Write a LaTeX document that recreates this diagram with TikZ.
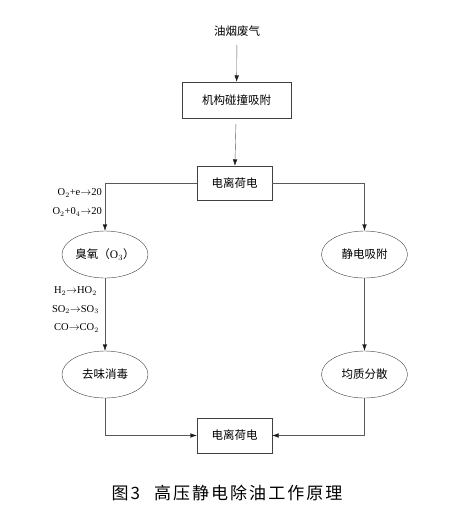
\documentclass[tikz,border=0pt]{standalone}
\usepackage{amsmath}
\usepackage{fontspec}
\setmainfont{Liberation Serif}
\newfontfamily\cjk{Noto Sans CJK SC}
\newfontfamily\cjkcap[LetterSpace=12]{Noto Sans CJK SC}
\usepackage{tikz}
\usetikzlibrary{arrows.meta,shapes.geometric}

\begin{document}
\begin{tikzpicture}[>={Latex[length=6.5pt,width=4.5pt,color=black!90]},x=1pt,y=-1pt,
    box/.style={draw=black!75,thin,minimum height=34pt,font=\fontsize{11.5}{12}\cjk},
    oval/.style={ellipse,draw=black!75,thin,minimum width=86pt,minimum height=47pt,
      inner sep=0pt,font=\fontsize{11.5}{12}\cjk},
    link/.style={draw=black!65,thin},
    chem/.style={anchor=east,inner sep=0pt,font=\fontsize{10.5}{11}\selectfont}]
  \useasboundingbox (0,0) rectangle (471,507);
  %
  % Boxes
  \node[font=\fontsize{11.5}{12}\cjk] (smoke) at (237,31) {油烟废气};
  \node[box,minimum width=109pt,minimum height=36pt] (collide) at (236.5,100) {机构碰撞吸附};
  \node[box,minimum width=75pt] (ionize) at (234.5,183) {电离荷电};
  \node[box,minimum width=75pt,minimum height=35pt] (charge) at (234.5,435.5) {电离荷电};
  %
  % Ellipses
  \node[oval] (ozone) at (105,254.5) {臭氧（{\normalfont O$_3$}）};
  \node[oval] (adsorb) at (364.5,254.5) {静电吸附};
  \node[oval] (deodor) at (105,374.5) {去味消毒};
  \node[oval] (disperse) at (364.5,374.5) {均质分散};
  %
  % Connectors
  \draw[link,->,shorten <=5pt] (smoke) -- (collide);
  \draw[link,->,shorten <=6pt] (collide) -- (ionize);
  \draw[link,->] (ionize) -| (ozone);
  \draw[link,->] (ionize) -| (adsorb);
  \draw[link,->] (ozone) -- (deodor);
  \draw[link,->] (adsorb) -- (disperse);
  \draw[link,->] (deodor) |- (charge);
  \draw[link,->] (disperse) |- (charge);
  %
  % Reactions
  \node[chem] (r1) at (102,193) {O$_2$+e$\to$20};
  \node[chem] (r2) at (102,212) {O$_2$+0$_4$$\to$20};
  \node[chem] (r3) at (97,291) {H$_2$$\to$HO$_2$};
  \node[chem] (r4) at (99,309.5) {SO$_2$$\to$SO$_3$};
  \node[chem] (r5) at (99,328) {CO$\to$CO$_2$};
  %
  % Caption
  \node[font=\fontsize{17}{18}\cjkcap] (caption) at (227,493) {图3\hspace{14pt}高压静电除油工作原理};
\end{tikzpicture}
\end{document}
